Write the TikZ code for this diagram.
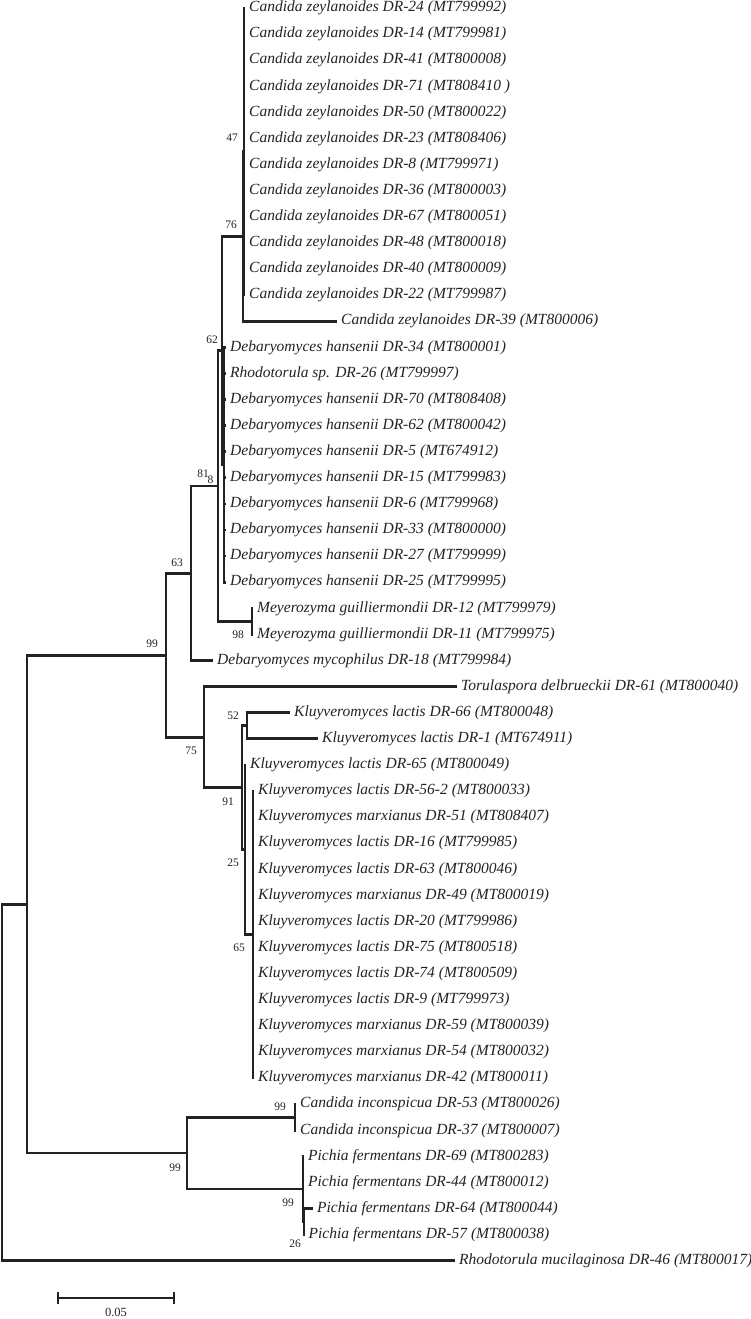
\documentclass[tikz,border=0pt]{standalone}
\usepackage{fontspec}
\setmainfont{Liberation Serif}
\definecolor{ink}{HTML}{222222}
\begin{document}
\begin{tikzpicture}[x=1pt,y=-1pt,
  br/.style={line width=2.7pt, color=ink},
  leaf/.style={anchor=west, inner sep=0pt, xshift=4pt, text=ink, font=\fontsize{15.5}{15.5}\selectfont\itshape},
  bs/.style={inner sep=0pt, text=ink, font=\fontsize{11.5}{11.5}\selectfont},
  sbar/.style={line width=1.8pt, color=ink}]
\useasboundingbox (0,0) rectangle (751,1319);
% internal nodes
\coordinate (R) at (2,1082.5);
\coordinate (A) at (27,904.2);
\coordinate (N99a) at (166,655.2);
\coordinate (N63) at (191,573.2);
\coordinate (N81) at (218,486);
\coordinate (N62) at (222,350.6);
\coordinate (N76) at (243,236.4);
\coordinate (N47) at (244,151.55);
\coordinate (N8) at (224,464.75);
\coordinate (NMey) at (252,621.35);
\coordinate (N75) at (204,737.15);
\coordinate (N91) at (242,787.7);
\coordinate (N52) at (247,725.75);
\coordinate (N25) at (245,849.7);
\coordinate (N65) at (253,934.55);
\coordinate (NB) at (187,1153.1);
\coordinate (NCi) at (295,1117.25);
\coordinate (NPf) at (303,1189);
\coordinate (N26) at (304,1221.65);
% leaf tips
\coordinate (t1) at (245,8);
\coordinate (t2) at (245,34.1);
\coordinate (t3) at (245,60.2);
\coordinate (t4) at (245,86.3);
\coordinate (t5) at (245,112.4);
\coordinate (t6) at (245,138.5);
\coordinate (t7) at (245,164.6);
\coordinate (t8) at (245,190.7);
\coordinate (t9) at (245,216.8);
\coordinate (t10) at (245,242.9);
\coordinate (t11) at (245,269);
\coordinate (t12) at (245,295.1);
\coordinate (t13) at (337,321.2);
\coordinate (t14) at (226,347.3);
\coordinate (t15) at (226,373.4);
\coordinate (t16) at (226,399.5);
\coordinate (t17) at (226,425.6);
\coordinate (t18) at (226,451.7);
\coordinate (t19) at (226,477.8);
\coordinate (t20) at (226,503.9);
\coordinate (t21) at (226,530);
\coordinate (t22) at (226,556.1);
\coordinate (t23) at (226,582.2);
\coordinate (t24) at (253,608.3);
\coordinate (t25) at (253,634.4);
\coordinate (t26) at (213,660.5);
\coordinate (t27) at (457,686.6);
\coordinate (t28) at (290,712.7);
\coordinate (t29) at (318,738.8);
\coordinate (t30) at (246,764.9);
\coordinate (t31) at (254,791);
\coordinate (t32) at (254,817.1);
\coordinate (t33) at (254,843.2);
\coordinate (t34) at (254,869.3);
\coordinate (t35) at (254,895.4);
\coordinate (t36) at (254,921.5);
\coordinate (t37) at (254,947.6);
\coordinate (t38) at (254,973.7);
\coordinate (t39) at (254,999.8);
\coordinate (t40) at (254,1025.9);
\coordinate (t41) at (254,1052);
\coordinate (t42) at (254,1078.1);
\coordinate (t43) at (296,1104.2);
\coordinate (t44) at (296,1130.3);
\coordinate (t45) at (304,1156.4);
\coordinate (t46) at (304,1182.5);
\coordinate (t47) at (313,1208.6);
\coordinate (t48) at (304.5,1234.7);
\coordinate (t49) at (455,1260.8);
% branches
\draw[br] (R) |- (A); \draw[br] (R) |- (t49);
\draw[br] (A) |- (N99a); \draw[br] (A) |- (NB);
\draw[br] (N99a) |- (N63); \draw[br] (N99a) |- (N75);
\draw[br] (N63) |- (N81); \draw[br] (N63) |- (t26);
\draw[br] (N81) |- (N62); \draw[br] (N81) |- (NMey);
\draw[br] (N62) |- (N76); \draw[br] (N62) |- (N8);
\draw[br] (N76) |- (N47); \draw[br] (N76) |- (t13);
\foreach \i in {1,...,12} {\draw[br] (N47) |- (t\i);}
\foreach \i in {14,...,23} {\draw[br] (N8) |- (t\i);}
\draw[br] (NMey) |- (t24); \draw[br] (NMey) |- (t25);
\draw[br] (N75) |- (t27); \draw[br] (N75) |- (N91);
\draw[br] (N91) |- (N52); \draw[br] (N91) |- (N25);
\draw[br] (N52) |- (t28); \draw[br] (N52) |- (t29);
\draw[br] (N25) |- (t30); \draw[br] (N25) |- (N65);
\foreach \i in {31,...,42} {\draw[br] (N65) |- (t\i);}
\draw[br] (NB) |- (NCi); \draw[br] (NB) |- (NPf);
\draw[br] (NCi) |- (t43); \draw[br] (NCi) |- (t44);
\draw[br] (NPf) |- (t45); \draw[br] (NPf) |- (t46); \draw[br] (NPf) |- (N26);
\draw[br] (N26) |- (t47); \draw[br] (N26) |- (t48);
% leaf labels
\node[leaf] (l1) at (t1) {Candida zeylanoides DR-24 (MT799992)};
\node[leaf] (l2) at (t2) {Candida zeylanoides DR-14 (MT799981)};
\node[leaf] (l3) at (t3) {Candida zeylanoides DR-41 (MT800008)};
\node[leaf] (l4) at (t4) {Candida zeylanoides DR-71 (MT808410 )};
\node[leaf] (l5) at (t5) {Candida zeylanoides DR-50 (MT800022)};
\node[leaf] (l6) at (t6) {Candida zeylanoides DR-23 (MT808406)};
\node[leaf] (l7) at (t7) {Candida zeylanoides DR-8 (MT799971)};
\node[leaf] (l8) at (t8) {Candida zeylanoides DR-36 (MT800003)};
\node[leaf] (l9) at (t9) {Candida zeylanoides DR-67 (MT800051)};
\node[leaf] (l10) at (t10) {Candida zeylanoides DR-48 (MT800018)};
\node[leaf] (l11) at (t11) {Candida zeylanoides DR-40 (MT800009)};
\node[leaf] (l12) at (t12) {Candida zeylanoides DR-22 (MT799987)};
\node[leaf] (l13) at (t13) {Candida zeylanoides DR-39 (MT800006)};
\node[leaf] (l14) at (t14) {Debaryomyces hansenii DR-34 (MT800001)};
\node[leaf] (l15) at (t15) {Rhodotorula sp. DR-26 (MT799997)};
\node[leaf] (l16) at (t16) {Debaryomyces hansenii DR-70 (MT808408)};
\node[leaf] (l17) at (t17) {Debaryomyces hansenii DR-62 (MT800042)};
\node[leaf] (l18) at (t18) {Debaryomyces hansenii DR-5 (MT674912)};
\node[leaf] (l19) at (t19) {Debaryomyces hansenii DR-15 (MT799983)};
\node[leaf] (l20) at (t20) {Debaryomyces hansenii DR-6 (MT799968)};
\node[leaf] (l21) at (t21) {Debaryomyces hansenii DR-33 (MT800000)};
\node[leaf] (l22) at (t22) {Debaryomyces hansenii DR-27 (MT799999)};
\node[leaf] (l23) at (t23) {Debaryomyces hansenii DR-25 (MT799995)};
\node[leaf] (l24) at (t24) {Meyerozyma guilliermondii DR-12 (MT799979)};
\node[leaf] (l25) at (t25) {Meyerozyma guilliermondii DR-11 (MT799975)};
\node[leaf] (l26) at (t26) {Debaryomyces mycophilus DR-18 (MT799984)};
\node[leaf] (l27) at (t27) {Torulaspora delbrueckii DR-61 (MT800040)};
\node[leaf] (l28) at (t28) {Kluyveromyces lactis DR-66 (MT800048)};
\node[leaf] (l29) at (t29) {Kluyveromyces lactis DR-1 (MT674911)};
\node[leaf] (l30) at (t30) {Kluyveromyces lactis DR-65 (MT800049)};
\node[leaf] (l31) at (t31) {Kluyveromyces lactis DR-56-2 (MT800033)};
\node[leaf] (l32) at (t32) {Kluyveromyces marxianus DR-51 (MT808407)};
\node[leaf] (l33) at (t33) {Kluyveromyces lactis DR-16 (MT799985)};
\node[leaf] (l34) at (t34) {Kluyveromyces lactis DR-63 (MT800046)};
\node[leaf] (l35) at (t35) {Kluyveromyces marxianus DR-49 (MT800019)};
\node[leaf] (l36) at (t36) {Kluyveromyces lactis DR-20 (MT799986)};
\node[leaf] (l37) at (t37) {Kluyveromyces lactis DR-75 (MT800518)};
\node[leaf] (l38) at (t38) {Kluyveromyces lactis DR-74 (MT800509)};
\node[leaf] (l39) at (t39) {Kluyveromyces lactis DR-9 (MT799973)};
\node[leaf] (l40) at (t40) {Kluyveromyces marxianus DR-59 (MT800039)};
\node[leaf] (l41) at (t41) {Kluyveromyces marxianus DR-54 (MT800032)};
\node[leaf] (l42) at (t42) {Kluyveromyces marxianus DR-42 (MT800011)};
\node[leaf] (l43) at (t43) {Candida inconspicua DR-53 (MT800026)};
\node[leaf] (l44) at (t44) {Candida inconspicua DR-37 (MT800007)};
\node[leaf] (l45) at (t45) {Pichia fermentans DR-69 (MT800283)};
\node[leaf] (l46) at (t46) {Pichia fermentans DR-44 (MT800012)};
\node[leaf] (l47) at (t47) {Pichia fermentans DR-64 (MT800044)};
\node[leaf] (l48) at (t48) {Pichia fermentans DR-57 (MT800038)};
\node[leaf] (l49) at (t49) {Rhodotorula mucilaginosa DR-46 (MT800017)};
% bootstrap values
\node[bs] (b47) at (232,138) {47};
\node[bs] (b76) at (231,225) {76};
\node[bs] (b62) at (212,340) {62};
\node[bs] (b81) at (203,474) {81};
\node[bs] (b8) at (210.5,480) {8};
\node[bs] (b63) at (177,563) {63};
\node[bs] (b99a) at (152,644) {99};
\node[bs] (b98) at (238,635) {98};
\node[bs] (b75) at (191,751) {75};
\node[bs] (b52) at (233,716) {52};
\node[bs] (b91) at (228,802) {91};
\node[bs] (b25) at (233,863) {25};
\node[bs] (b65) at (239,948) {65};
\node[bs] (b99c) at (280,1107) {99};
\node[bs] (b99b) at (175,1168) {99};
\node[bs] (b99p) at (288,1203) {99};
\node[bs] (b26) at (295,1244) {26};
% scale bar
\coordinate (s0) at (58,1298);
\coordinate (s1) at (174,1298);
\draw[sbar] (s0) -- (s1);
\draw[sbar] ([yshift=-6pt]s0) -- ([yshift=6pt]s0);
\draw[sbar] ([yshift=-6pt]s1) -- ([yshift=6pt]s1);
\node[bs, font=\fontsize{12.5}{12.5}\selectfont] (sl) at (116,1312) {0.05};
\end{tikzpicture}
\end{document}
